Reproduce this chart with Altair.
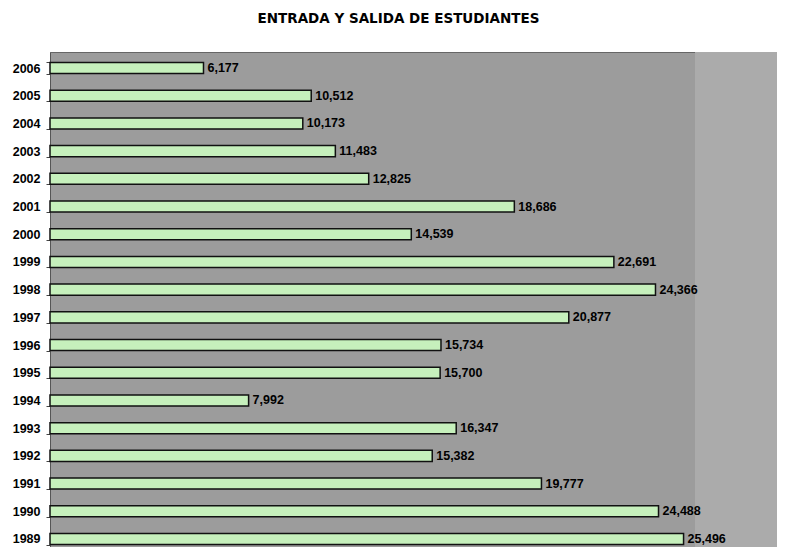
import altair as alt
import pandas as pd

years = ["2006", "2005", "2004", "2003", "2002", "2001", "2000", "1999", "1998",
         "1997", "1996", "1995", "1994", "1993", "1992", "1991", "1990", "1989"]
values = [6177, 10512, 10173, 11483, 12825, 18686, 14539, 22691, 24366,
          20877, 15734, 15700, 7992, 16347, 15382, 19777, 24488, 25496]

df = pd.DataFrame({"year": years, "value": values})

FONT = "Liberation Sans"
XMAX = 29256
xscale = alt.Scale(domain=[0, XMAX], nice=False, zero=True)
yscale = alt.Scale(paddingInner=0.6, paddingOuter=0.378)

base = alt.Chart(df)

shade = base.transform_aggregate(n="count()").transform_calculate(
    s="25956", e=str(XMAX)
).mark_rect(color="#ababab").encode(
    x=alt.X("s:Q", scale=xscale, axis=None),
    x2="e:Q",
    y=alt.value(0),
    y2=alt.value(503),
)

bars = base.mark_bar(fill="#c6f0bc", stroke="#111111", strokeWidth=1.5).encode(
    x=alt.X("value:Q", scale=xscale, axis=None),
    y=alt.Y("year:N", sort=years, scale=yscale, title=None,
            axis=alt.Axis(labelFont=FONT, labelFontWeight="bold", labelFontSize=12.5,
                          labelColor="#000000", tickBand="extent", tickSize=4,
                          tickColor="#444444", domainColor="#555555",
                          labelPadding=6)),
)

labels = base.mark_text(align="left", baseline="middle", dx=4, font=FONT,
                        fontWeight="bold", fontSize=12.5, color="#000000").encode(
    x=alt.X("value:Q", scale=xscale),
    y=alt.Y("year:N", sort=years, scale=yscale),
    text=alt.Text("value:Q", format=","),
)

chart = alt.layer(shade, bars, labels).properties(
    width=727,
    height=503,
    background="#ffffff",
    autosize=alt.AutoSizeParams(type="none"),
    padding={"left": 42, "top": 44, "right": 0, "bottom": 0},
    title=alt.Title("ENTRADA Y SALIDA DE ESTUDIANTES", font="DejaVu Sans",
                    fontSize=13.5, fontWeight="bold", color="#000000",
                    offset=21, dx=-15),
).configure_view(fill="#9c9c9c", stroke="#666666", strokeWidth=1)

chart.save("out.html", embed_options={"renderer": "svg", "actions": False})
